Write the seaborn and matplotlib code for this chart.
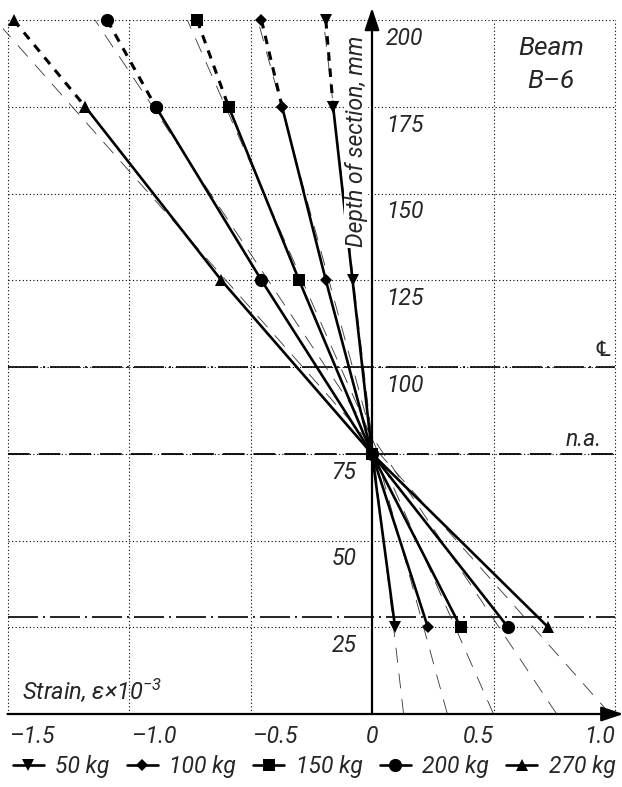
#Import Libraries:

import matplotlib
matplotlib.use("Agg")
import matplotlib.pyplot as plt
from matplotlib.lines import Line2D
import seaborn as sns
import numpy as np

#Data (strain x10^-3 at each depth of section, mm)
depths = [200, 175, 125, 75, 25]
strain_50 = [-0.19, -0.16, -0.08, 0.0, 0.095]
strain_100 = [-0.455, -0.37, -0.19, 0.0, 0.23]
strain_150 = [-0.72, -0.59, -0.30, 0.0, 0.365]
strain_200 = [-1.09, -0.89, -0.455, 0.0, 0.56]
strain_270 = [-1.475, -1.18, -0.62, 0.0, 0.725]

loads = ["50 kg", "100 kg", "150 kg", "200 kg", "270 kg"]
markers = ["v", "D", "s", "o", "^"]
marker_sizes = [8, 6, 8, 9.5, 9]

#thin dashed (linear) strain lines: strain at depth 0 and at depth 200
ref_bottom = [0.13, 0.31, 0.50, 0.76, 0.98]
ref_top = [-0.20, -0.47, -0.76, -1.14, -1.55]

x_ticks = [-1.5, -1.0, -0.5, 0, 0.5, 1.0]
x_labels = ["\u20131.5", "\u20131.0", "\u20130.5", "0", "0.5", "1.0"]
y_ticks = [200, 175, 150, 125, 100, 75, 50, 25]

centre_line = 100
neutral_axis = 75
steel_line = 28

sns.set_style("white")
plt.rcParams["font.family"] = ["Roboto", "DejaVu Sans"]
plt.rcParams["font.style"] = "italic"
plt.rcParams["mathtext.fontset"] = "custom"
plt.rcParams["mathtext.rm"] = "Roboto:italic"
plt.rcParams["mathtext.it"] = "Roboto:italic"

fig = plt.figure(figsize=(6.22, 7.87), dpi=100)

#axes placed so 1.0 strain = 243 px and 25 mm = 86.75 px
x_lim = (-1.52, 1.03)
y_lim = (-3, 204)
left = (372 + 243 * x_lim[0]) / 622
right = (372 + 243 * x_lim[1]) / 622
bottom = (787 - (714 - 3.47 * y_lim[0])) / 787
top = (787 - (714 - 3.47 * y_lim[1])) / 787
ax = fig.add_axes([left, bottom, right - left, top - bottom])
ax.set_xlim(*x_lim)
ax.set_ylim(*y_lim)
for s in ax.spines.values():
    s.set_visible(False)
ax.set_xticks([])
ax.set_yticks([])

#dotted grid
grid_x = [v for v in x_ticks if v != 0]
ax.vlines(grid_x, 0, 200, colors="black", linestyles=(0, (1, 2.2)), lw=0.8, zorder=1)
ax.hlines(y_ticks, -1.5, 1.0, colors="black", linestyles=(0, (1, 2.2)), lw=0.8, zorder=1)

#centre line, neutral axis and steel level
ax.hlines([centre_line, steel_line], -1.5, 1.0, colors="black",
          linestyles=[(0, (18, 3, 1.2, 3))], lw=1.2, zorder=2)
ax.hlines(neutral_axis, -1.5, 1.0, colors="black", linestyles=[(0, (12, 5))], lw=1.3, zorder=2)

#thin linear strain lines
for xb, xt in zip(ref_bottom, ref_top):
    ax.plot([xb, xt], [0, 200], color="#333333", lw=0.6, ls=(0, (18, 13)), zorder=2)

series = [strain_50, strain_100, strain_150, strain_200, strain_270]
for strain, m, ms in zip(series, markers, marker_sizes):
    #measured top fibre (dashed)
    sns.lineplot(x=strain[:2], y=depths[:2], ax=ax, sort=False, estimator=None,
                 color="black", lw=2.2, linestyle=(0, (2.8, 2.5)),
                 marker=m, markersize=ms, markeredgewidth=0, zorder=4)
    sns.lineplot(x=strain[1:], y=depths[1:], ax=ax, sort=False, estimator=None,
                 color="black", lw=1.9, marker=m, markersize=ms,
                 markeredgewidth=0, zorder=4)

#axes with arrows
arrow = dict(arrowstyle="-|>,head_length=0.9,head_width=0.3", lw=1.6, color="black",
             shrinkA=0, shrinkB=0, mutation_scale=15)
ax.annotate("", xy=(1.035, 0), xytext=(-1.5, 0), arrowprops=arrow, annotation_clip=False, zorder=6)
ax.annotate("", xy=(0, 203.5), xytext=(0, 0), arrowprops=arrow, annotation_clip=False, zorder=6)

fs = 16.5
#x tick labels
for v, lab in zip(x_ticks, x_labels):
    if v < 0:
        ha, dx = "left", 1.5
    elif v == 0:
        ha, dx = "center", 0
    else:
        ha, dx = "right", 0
    ax.annotate(lab, xy=(v, 0), xytext=(dx, -8), textcoords="offset points",
                ha=ha, va="top", fontsize=fs, annotation_clip=False)

#y tick labels (right of axis above n.a., left of it below)
for v in y_ticks:
    if v > neutral_axis:
        ax.annotate(str(v), xy=(0, v), xytext=(10, -5), textcoords="offset points",
                    ha="left", va="top", fontsize=fs)
    else:
        ax.annotate(str(v), xy=(0, v), xytext=(-11, -5), textcoords="offset points",
                    ha="right", va="top", fontsize=fs)

ax.text(-0.065, 165, "Depth of section, mm", rotation=90, ha="center", va="center",
        fontsize=fs, zorder=5,
        bbox=dict(facecolor="white", edgecolor="none", pad=0.5))
ax.text(-1.44, 4.5, "Strain, \u03b5\u00d710$^{-3}$", ha="left", va="baseline", fontsize=17)
ax.text(0.737, 192, "Beam", ha="center", va="center", fontsize=19)
ax.text(0.737, 182.5, "B\u20136", ha="center", va="center", fontsize=19)
ax.text(0.95, 104.8, "\u2104", ha="center", va="center", fontsize=15,
        family=["DejaVu Sans"], style="normal")
ax.text(0.946, 79.2, "n.a.", ha="right", va="center", fontsize=fs)

#legend
handles = [Line2D([], [], color="black", lw=1.9, marker=m, markersize=ms, markeredgewidth=0)
           for m, ms in zip(markers, marker_sizes)]
fig.legend(handles, loads, loc="center", bbox_to_anchor=(0.505, 0.026), ncol=5,
           frameon=False, fontsize=fs, handlelength=1.35, handletextpad=0.5,
           columnspacing=0.75, borderpad=0, borderaxespad=0)

fig.savefig("out.png", dpi=100)
